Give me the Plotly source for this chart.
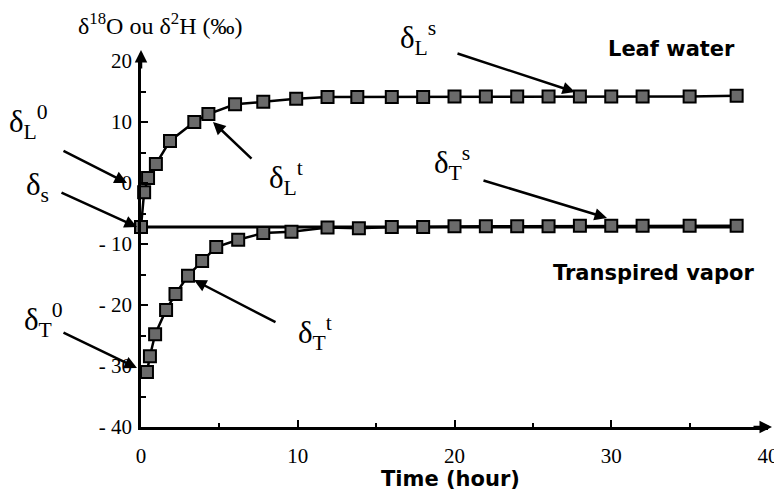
import plotly.graph_objects as go

# leaf water isotopic composition (per mil) vs time (hour)
leaf_t = [0, 0.2, 0.45, 0.95, 1.85, 3.4, 4.3, 6.0, 7.8, 9.9, 11.9, 13.8, 16, 18, 20, 22, 24, 26, 28, 30, 32, 35, 38]
leaf_d = [-7.2, -1.5, 0.8, 3.1, 6.9, 10.0, 11.3, 12.9, 13.3, 13.8, 14.1, 14.1, 14.1, 14.1, 14.2, 14.2, 14.2, 14.2, 14.2, 14.2, 14.2, 14.2, 14.3]

# transpired vapor
vap_t = [0.38, 0.57, 0.9, 1.6, 2.2, 3.0, 3.9, 4.8, 6.2, 7.8, 9.6, 11.9, 13.9, 16, 18, 20, 22, 24, 26, 28, 30, 32, 35, 38]
vap_d = [-31.0, -28.4, -24.8, -20.8, -18.2, -15.2, -12.8, -10.5, -9.3, -8.2, -8.0, -7.3, -7.4, -7.2, -7.2, -7.1, -7.1, -7.1, -7.1, -7.0, -7.0, -7.0, -7.0, -7.0]

# source water (flat line)
src_t = [0, 38.3]
src_d = [-7.2, -7.2]

x_ticks = [0, 10, 20, 30, 40]
x_labels = ["0", "10", "20", "30", "40"]
y_ticks = [20, 10, 0, -10, -20, -30, -40]
y_labels = ["20", "10", "0", "- 10", "- 20", "- 30", "- 40"]

SERIF = "Liberation Serif, Times New Roman, serif"
SANS = "DejaVu Sans, Verdana, sans-serif"
mk = dict(symbol="square", size=12, color="#6a6a6a", line=dict(color="black", width=2))

# page body adds an 8px margin around the plot div
OFF = 8
W, H = 782 - OFF, 497 - OFF
# plot area in window pixels (left, right, top, bottom)
L, R, T, B = 141, 768, 61, 427

def px(x):
    return (x - L) / (R - L)

def py(y):
    return (B - y) / (B - T)

fig = go.Figure()
fig.add_trace(go.Scatter(x=src_t, y=src_d, mode="lines", line=dict(color="black", width=3),
                         showlegend=False, cliponaxis=False))
fig.add_trace(go.Scatter(x=leaf_t, y=leaf_d, mode="lines+markers", line=dict(color="black", width=2.5),
                         marker=mk, showlegend=False, cliponaxis=False))
fig.add_trace(go.Scatter(x=vap_t, y=vap_d, mode="lines+markers", line=dict(color="black", width=2.5),
                         marker=mk, showlegend=False, cliponaxis=False))

fig.update_layout(
    width=W, height=H,
    margin=dict(l=L - OFF, r=W - (R - OFF), t=T - OFF, b=H - (B - OFF)),
    plot_bgcolor="white", paper_bgcolor="white",
    xaxis=dict(range=[0, 40], showline=True, linecolor="black", linewidth=2.5, showgrid=False,
               zeroline=False, ticks="inside", ticklen=7, tickwidth=2, tickcolor="black",
               tickvals=x_ticks, ticktext=x_labels, ticklabelstandoff=8, automargin=False,
               ticklabeloverflow="allow",
               tickfont=dict(family=SERIF, size=21, color="black"),
               minor=dict(dtick=5, ticks="inside", ticklen=4, tickwidth=2, tickcolor="black")),
    yaxis=dict(range=[-40, 20], showline=True, linecolor="black", linewidth=2.5, showgrid=False,
               zeroline=False, ticks="inside", ticklen=7, tickwidth=2, tickcolor="black",
               tickvals=y_ticks, ticktext=y_labels, ticklabelstandoff=2, automargin=False,
               tickfont=dict(family=SERIF, size=21, color="black"),
               minor=dict(dtick=5, ticks="inside", ticklen=5, tickwidth=2, tickcolor="black")),
)

arrow_style = dict(text="", showarrow=True, arrowhead=2, arrowsize=1, arrowwidth=2.5,
                   arrowcolor="black", xref="paper", yref="paper")

# axis arrowheads
fig.add_annotation(x=px(772), y=py(B), ax=-20, ay=0, **arrow_style)
fig.add_annotation(x=px(L), y=py(50), ax=0, ay=20, **arrow_style)

# pointer arrows: head (px), tail offset (px)
arrows = [(127, 183, -65, -33), (137, 227, -77, -35), (213, 122, 40, 38),
          (575, 92, -119, -39), (607, 218, -125, -38), (137, 368, -75, -36),
          (194, 280, 83, 43)]
for hx, hy, dx, dy in arrows:
    fig.add_annotation(x=px(hx), y=py(hy), ax=dx, ay=dy, **arrow_style)

text_style = dict(xref="paper", yref="paper", showarrow=False, xanchor="center", yanchor="middle")

labels = [("δ<sub>L</sub><sup>0</sup>", 28, 122), ("δ<sub>s</sub>", 37, 187),
          ("δ<sub>L</sub><sup>t</sup>", 286, 178), ("δ<sub>L</sub><sup>s</sup>", 418, 38),
          ("δ<sub>T</sub><sup>s</sup>", 452, 163), ("δ<sub>T</sub><sup>0</sup>", 44, 320),
          ("δ<sub>T</sub><sup>t</sup>", 315, 333)]
for txt, lx, ly in labels:
    fig.add_annotation(x=px(lx), y=py(ly), text=txt,
                       font=dict(family=SERIF, size=31, color="black"), **text_style)

fig.add_annotation(x=px(671), y=py(49), text="<b>Leaf water</b>",
                   font=dict(family=SANS, size=21, color="black"), **text_style)
fig.add_annotation(x=px(653), y=py(273), text="<b>Transpired vapor</b>",
                   font=dict(family=SANS, size=21, color="black"), **text_style)
fig.add_annotation(x=px(450), y=py(479), text="<b>Time (hour)</b>",
                   font=dict(family=SANS, size=21, color="black"), **text_style)
fig.add_annotation(x=px(160), y=py(24), text="δ<sup>18</sup>O ou δ<sup>2</sup>H (‰)",
                   font=dict(family=SERIF, size=24, color="black"), **text_style)

fig.write_html("out.html")
